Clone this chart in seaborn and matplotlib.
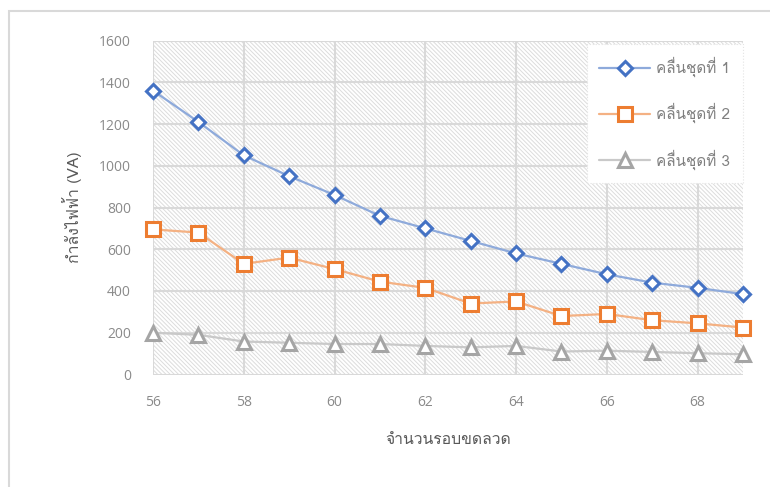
import matplotlib
matplotlib.use("Agg")
import matplotlib.pyplot as plt
from matplotlib import font_manager, ft2font
from matplotlib.patches import Rectangle
from matplotlib.lines import Line2D
import pandas as pd
import seaborn as sns

# Number of winding turns and apparent power (VA) of three waveform sets
turns = [56, 57, 58, 59, 60, 61, 62, 63, 64, 65, 66, 67, 68, 69]
wave1 = [1360, 1210, 1050, 950, 860, 760, 700, 640, 580, 530, 480, 440, 415, 385]
wave2 = [695, 680, 530, 560, 505, 445, 415, 340, 350, 280, 290, 260, 245, 225]
wave3 = [200, 190, 158, 152, 146, 146, 137, 130, 137, 110, 114, 108, 102, 97]
series_names = ["คลื่นชุดที่ 1", "คลื่นชุดที่ 2", "คลื่นชุดที่ 3"]
x_ticks = [56, 58, 60, 62, 64, 66, 68]
y_ticks = [0, 200, 400, 600, 800, 1000, 1200, 1400, 1600]
x_title = "จำนวนรอบขดลวด"
y_title = "กำลังไฟฟ้า (VA)"


def find_thai_family():
    seen = set()
    for f in font_manager.fontManager.ttflist:
        if f.fname in seen:
            continue
        seen.add(f.fname)
        try:
            cmap = ft2font.FT2Font(f.fname).get_charmap()
        except Exception:
            continue
        if 0x0E01 in cmap and 0x0E33 in cmap and 0x0E48 in cmap:
            return f.name
    return None


sns.set_theme(style="white")
thai = find_thai_family()
thai_families = ([thai] if thai else []) + ["Open Sans", "DejaVu Sans"]
plt.rcParams["font.family"] = thai_families
plt.rcParams["hatch.linewidth"] = 0.7

df = pd.DataFrame({
    "turns": turns * 3,
    "power": wave1 + wave2 + wave3,
    "series": [series_names[0]] * len(turns) + [series_names[1]] * len(turns)
              + [series_names[2]] * len(turns),
})

fig = plt.figure(figsize=(7.7, 4.87), dpi=100)
ax = fig.add_axes([153 / 770, 1 - 374.5 / 487, 590 / 770, 334 / 487])

# hatched plot-area background
ax.add_patch(Rectangle((0, 0), 1, 1, transform=ax.transAxes, facecolor="white",
                       edgecolor="#dcdcdc", hatch="\\" * 8, linewidth=0, zorder=0.1))

styles = [
    dict(line="#8eaadb", edge="#4472c4", marker="D", ms=7.5),
    dict(line="#f4b183", edge="#ed7d31", marker="s", ms=10),
    dict(line="#c9c9c9", edge="#a5a5a5", marker="^", ms=10),
]

handles = []
for name, st in zip(series_names, styles):
    sub = df[df["series"] == name]
    sns.lineplot(data=sub, x="turns", y="power", ax=ax, color=st["line"],
                 linewidth=1.6, marker=st["marker"], markersize=st["ms"],
                 markerfacecolor="white", markeredgecolor=st["edge"],
                 markeredgewidth=2.2, legend=False, clip_on=False, zorder=3)
    handles.append(Line2D([], [], color=st["line"], linewidth=1.6,
                          marker=st["marker"], markersize=st["ms"],
                          markerfacecolor="white", markeredgecolor=st["edge"],
                          markeredgewidth=2.2))

ax.set_xlim(56, 69)
ax.set_ylim(0, 1600)
ax.set_xticks(x_ticks)
ax.set_yticks(y_ticks)
ax.set_axisbelow(True)
ax.grid(True, color="#d9d9d9", linewidth=1.5)
for s in ax.spines.values():
    s.set_visible(False)
ax.tick_params(axis="both", length=0, labelsize=10, labelcolor="#8a8a8a",
               labelfontfamily="Open Sans")
ax.tick_params(axis="x", pad=15)
ax.tick_params(axis="y", pad=16)

ax.set_xlabel(x_title, fontsize=11.3, color="#595959", labelpad=16)
ax.set_ylabel(y_title, fontsize=11.3, color="#595959", labelpad=12)

leg = ax.legend(handles, series_names, loc="upper right",
                bbox_to_anchor=(1.0, 0.99), borderaxespad=0, frameon=True,
                fancybox=False, framealpha=1, edgecolor="#e4e4e4",
                facecolor="white", fontsize=11, labelcolor="#808080",
                handlelength=3.3, labelspacing=1.7, borderpad=0.85,
                handletextpad=0.4)
leg.get_frame().set_linestyle(":")
leg.get_frame().set_linewidth(0.8)
leg.set_zorder(5)

# outer chart border
fig.patches.append(Rectangle((8.5 / 770, -0.1), 1.2, (487 - 11) / 487 + 0.1,
                             transform=fig.transFigure, fill=False,
                             edgecolor="#d9d9d9", linewidth=1.5))

fig.savefig("out.png", dpi=100, facecolor="white")
